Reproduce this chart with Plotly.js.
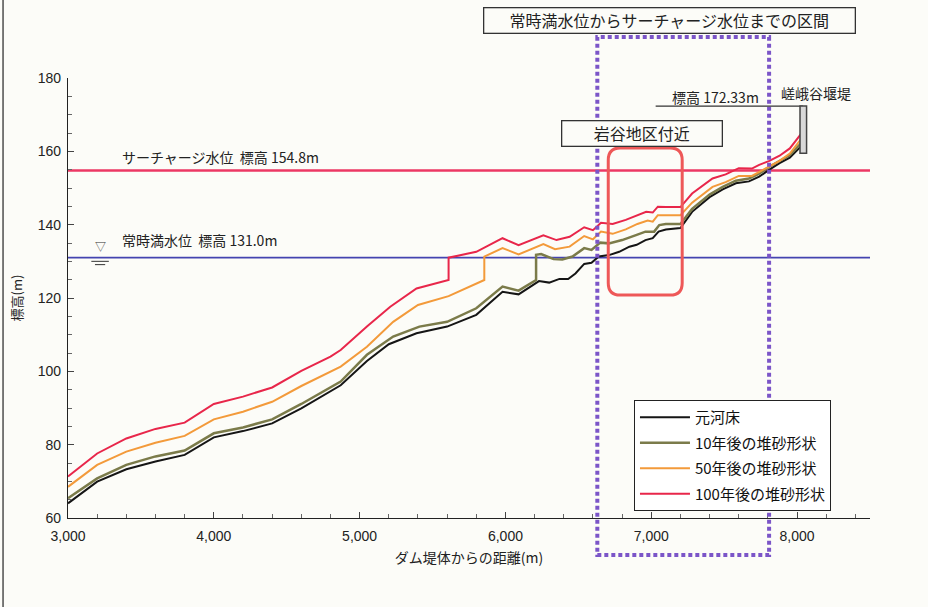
<!DOCTYPE html>
<html><head><meta charset="utf-8">
<script src="https://cdn.plot.ly/plotly-3.0.1.min.js"></script>
<style>html,body{margin:0;padding:0;background:#fcfcf8;}#chart{width:928px;height:607px;}</style>
</head><body><div id="chart"></div>
<script>
// ---- data (distance from dam [m], elevation [m]) ----
const seriesNames = ['元河床', '10年後の堆砂形状', '50年後の堆砂形状', '100年後の堆砂形状'];

const origX = [3000,3200,3400,3600,3800,4000,4200,4400,4600,4800,4870,5050,5200,5390,5600,5800,5980,6090,6230,6300,6370,6430,6480,6540,6590,6640,6710,6780,6850,6900,6960,7010,7050,7100,7200,7280,7400,7490,7580,7670,7740,7810,7880,7950,8030];
const origY = [64.0,69.9,73.3,75.4,77.2,82.0,83.7,85.8,89.9,94.5,96.2,102.8,107.4,110.4,112.2,115.4,121.7,121.0,124.6,124.2,125.2,125.2,126.7,129.3,129.6,131.3,131.7,132.6,134.0,134.5,135.8,136.3,138.1,138.7,139.1,143.5,147.5,149.6,151.3,151.8,153.1,155.0,156.8,158.3,161.5];

const y10X = [3000,3200,3400,3600,3800,4000,4200,4400,4600,4800,4870,5050,5230,5410,5600,5800,5980,6090,6210,6210,6245,6330,6390,6460,6540,6590,6650,6710,6800,6900,6960,7020,7055,7100,7200,7280,7400,7490,7580,7670,7740,7810,7880,7950,8030];
const y10Y = [65.4,70.8,74.5,76.8,78.4,83.1,84.7,86.9,91.1,95.5,97.2,104.5,109.5,112.2,113.5,117.2,123.1,122.0,124.9,131.8,132.0,130.6,130.5,131.3,133.6,133.1,135.1,134.9,135.8,137.2,138.1,138.1,139.9,140.2,140.2,144.3,148.2,150.3,152.0,152.6,153.9,155.8,157.5,159.0,162.3];

const y50X = [3000,3200,3400,3600,3800,4000,4200,4400,4600,4800,4870,5050,5230,5400,5610,5855,5855,5980,6090,6260,6340,6440,6540,6600,6655,6735,6825,6905,6975,7010,7045,7100,7200,7280,7420,7510,7600,7690,7740,7810,7880,7950,8030];
const y50Y = [68.5,74.5,78.1,80.5,82.4,86.9,89.0,91.7,96.0,100.0,101.3,106.7,113.5,118.1,120.5,124.9,131.3,133.6,131.9,134.7,133.3,134.0,136.9,136.0,138.1,137.5,138.7,140.2,141.1,140.8,142.6,142.6,142.6,146.0,150.3,151.6,153.3,153.3,154.4,155.8,157.4,159.4,163.5];

const y100X = [3000,3200,3400,3600,3800,4000,4200,4400,4600,4800,4870,5050,5210,5390,5610,5610,5800,5980,6090,6260,6350,6440,6540,6600,6655,6735,6825,6905,6965,7010,7045,7100,7200,7280,7420,7510,7600,7690,7740,7810,7880,7950,8030];
const y100Y = [71.3,77.6,81.7,84.3,86.0,91.1,93.1,95.6,100.1,104.0,105.8,112.2,117.6,122.6,124.9,131.0,132.6,136.3,134.4,137.1,135.8,136.7,139.3,138.5,140.5,140.2,141.3,142.6,143.5,143.3,144.9,144.8,144.8,148.5,152.6,153.7,155.4,155.3,156.3,157.4,158.8,160.8,164.9];

const surchargeLevel = 154.8;
const normalLevel = 131.0;
const weirCrest = 172.33;
const xRange = [3000, 8500];
const yRange = [60, 180];
const xTickVals = [3000,4000,5000,6000,7000,8000];
const xTickText = ['3,000','4,000','5,000','6,000','7,000','8,000'];
const yTickVals = [60,80,100,120,140,160,180];

// ---- drawing ----
const jp = '"Noto Sans CJK JP", "Noto Sans", sans-serif';
const num = '"Liberation Sans Narrow", "Liberation Sans", Arial, sans-serif';

function seriesTrace(x, y, name, color, width, grp) {
  return {x: x, y: y, name: name, type: 'scatter', mode: 'lines',
          line: {color: color, width: width}, legendgroup: grp, hoverinfo: 'x+y'};
}
const traces = [
  {x: xRange, y: [surchargeLevel, surchargeLevel], mode: 'lines', showlegend: false,
   line: {color: '#ec3864', width: 2.5}, hoverinfo: 'skip'},
  {x: xRange, y: [normalLevel, normalLevel], mode: 'lines', showlegend: false,
   line: {color: '#4444b0', width: 1.8}, hoverinfo: 'skip'},
  seriesTrace(origX, origY, seriesNames[0], '#151515', 2, 'g0'),
  seriesTrace(y10X, y10Y, seriesNames[1], '#7b7b4a', 2.5, 'g1'),
  seriesTrace(y50X, y50Y, seriesNames[2], '#f39a3a', 2, 'g2'),
  seriesTrace(y100X, y100Y, seriesNames[3], '#e8264a', 2, 'g3')
];

// rounded red box (岩谷地区付近)
const bx0 = 6705, bx1 = 7212, by0 = 120.8, by1 = 160.9, rx = 82, ry = 3.3;
const roundPath = `M${bx0+rx},${by1} L${bx1-rx},${by1} Q${bx1},${by1} ${bx1},${by1-ry} L${bx1},${by0+ry} Q${bx1},${by0} ${bx1-rx},${by0} L${bx0+rx},${by0} Q${bx0},${by0} ${bx0},${by0+ry} L${bx0},${by1-ry} Q${bx0},${by1} ${bx0+rx},${by1} Z`;

const layout = {
  width: 928, height: 607,
  margin: {l: 68, r: 58, t: 78, b: 89},
  paper_bgcolor: '#fcfcf8', plot_bgcolor: '#fcfcf8',
  font: {family: num, size: 13, color: '#222'},
  xaxis: {range: xRange, tickvals: xTickVals, ticktext: xTickText,
          showgrid: false, zeroline: false, showline: true, linecolor: '#222', linewidth: 1.3,
          ticks: 'inside', ticklen: 6, tickcolor: '#444', ticklabelstandoff: 5,
          minor: {dtick: 200, ticks: 'inside', ticklen: 4, tickcolor: '#666'},
          tickfont: {family: num, size: 14, color: '#222'},
          title: {text: 'ダム堤体からの距離(m)', font: {family: jp, size: 14, color: '#222'}, standoff: 10}},
  yaxis: {range: yRange, tickvals: yTickVals,
          showgrid: false, zeroline: false, showline: true, linecolor: '#222', linewidth: 1.3,
          ticks: 'inside', ticklen: 6, tickcolor: '#444', ticklabelstandoff: 3,
          minor: {dtick: 5, ticks: 'inside', ticklen: 4, tickcolor: '#666'},
          tickfont: {family: num, size: 14, color: '#222'},
          title: {text: '標高(m)', font: {family: jp, size: 13, color: '#222'}, standoff: 12}},
  legend: {x: 0.7057, y: 0.268, xanchor: 'left', yanchor: 'top',
           bgcolor: '#ffffff', bordercolor: '#222', borderwidth: 1,
           font: {family: jp, size: 15, color: '#111'}, itemwidth: 50,
           tracegroupgap: 3, traceorder: 'grouped'},
  shapes: [
    // 区間 dotted rectangle
    {type: 'rect', xref: 'x', yref: 'paper', x0: 6630, x1: 7808, y0: -0.084, y1: 1.093,
     line: {color: '#7b55c8', width: 4, dash: '4px,3px'}, fillcolor: 'rgba(0,0,0,0)'},
    // 岩谷地区 rounded box
    {type: 'path', xref: 'x', yref: 'y', path: roundPath,
     line: {color: '#ee5858', width: 3}, fillcolor: 'rgba(0,0,0,0)'},
    // weir crest line
    {type: 'line', xref: 'x', yref: 'y', x0: 7030, x1: 8040, y0: weirCrest, y1: weirCrest,
     line: {color: '#333', width: 1.3}},
    // weir body
    {type: 'rect', xref: 'x', yref: 'y', x0: 8020, x1: 8065, y0: 159.5, y1: weirCrest,
     line: {color: '#444', width: 1.5}, fillcolor: '#d8d8d8'},
    // water level symbol lines
    {type: 'line', xref: 'x', yref: 'y', x0: 3160, x1: 3280, y0: 130.0, y1: 130.0,
     line: {color: '#333', width: 1}},
    {type: 'line', xref: 'x', yref: 'y', x0: 3185, x1: 3255, y0: 129.1, y1: 129.1,
     line: {color: '#333', width: 1}},
    // page frame line on the left
    {type: 'line', xref: 'paper', yref: 'paper', x0: -0.081, x1: -0.081, y0: -0.21, y1: 1.18,
     line: {color: '#333', width: 1.3}}
  ],
  annotations: [
    {xref: 'paper', yref: 'paper', x: (669-68)/802, y: (518-21)/440, xanchor: 'center', yanchor: 'middle',
     text: '常時満水位からサーチャージ水位までの区間', showarrow: false,
     font: {family: jp, size: 16, color: '#222'}, width: 368, height: 22,
     bordercolor: '#333', borderwidth: 1.3, bgcolor: '#fcfcf8'},
    {xref: 'paper', yref: 'paper', x: (642-68)/802, y: (518-133)/440, xanchor: 'center', yanchor: 'middle',
     text: '岩谷地区付近', showarrow: false,
     font: {family: jp, size: 16, color: '#222'}, width: 157, height: 22,
     bordercolor: '#333', borderwidth: 1.3, bgcolor: '#fcfcf8'},
    {xref: 'x', yref: 'y', x: 3356, y: 158.4, xanchor: 'left', yanchor: 'middle',
     text: 'サーチャージ水位\u00a0\u00a0標高 154.8m', showarrow: false,
     font: {family: jp, size: 14, color: '#222'}},
    {xref: 'x', yref: 'y', x: 3356, y: 135.8, xanchor: 'left', yanchor: 'middle',
     text: '常時満水位\u00a0\u00a0標高 131.0m', showarrow: false,
     font: {family: jp, size: 14, color: '#222'}},
    {xref: 'x', yref: 'y', x: 3220, y: 131.4, xanchor: 'center', yanchor: 'bottom',
     text: '▽', showarrow: false, font: {family: jp, size: 11, color: '#333'}},
    {xref: 'x', yref: 'y', x: 7440, y: 174.9, xanchor: 'center', yanchor: 'middle',
     text: '標高 172.33m', showarrow: false, font: {family: jp, size: 14, color: '#222'}},
    {xref: 'x', yref: 'y', x: 8130, y: 175.9, xanchor: 'center', yanchor: 'middle',
     text: '嵯峨谷堰堤', showarrow: false, font: {family: jp, size: 14, color: '#222'}}
  ]
};

Plotly.newPlot('chart', traces, layout, {displayModeBar: false, responsive: false});
</script>
</body></html>
